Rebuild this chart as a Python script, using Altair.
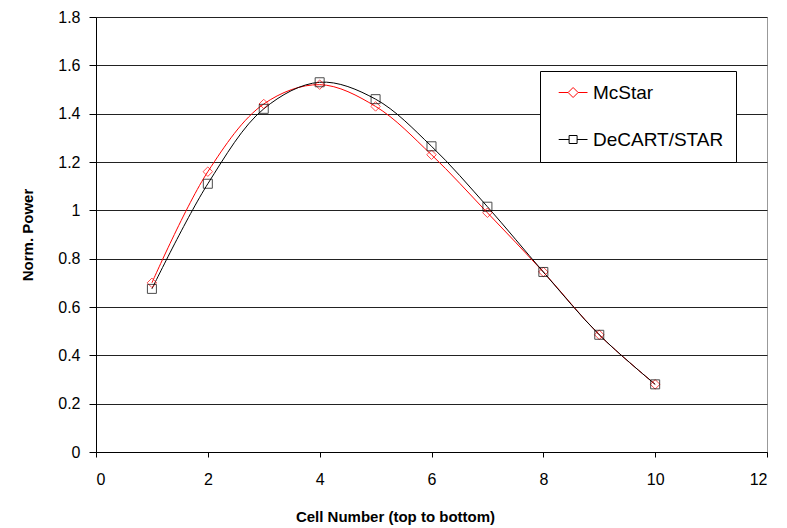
import altair as alt
import pandas as pd

cells = [1, 2, 3, 4, 5, 6, 7, 8, 9, 10]
mcstar = [0.70, 1.16, 1.44, 1.52, 1.43, 1.23, 0.99, 0.745, 0.485, 0.28]
decart = [0.675, 1.11, 1.42, 1.53, 1.46, 1.265, 1.015, 0.745, 0.485, 0.28]
series_names = ["McStar", "DeCART/STAR"]
y_ticks = [0, 0.2, 0.4, 0.6, 0.8, 1.0, 1.2, 1.4, 1.6, 1.8]
x_ticks = [0, 2, 4, 6, 8, 10, 12]

rows = []
for c, v in zip(cells, mcstar):
    rows.append({"cell": c, "power": v, "series": series_names[0]})
for c, v in zip(cells, decart):
    rows.append({"cell": c, "power": v, "series": series_names[1]})
df = pd.DataFrame(rows)

colors = ["#ff0000", "#000000"]
FONT = "Liberation Sans"

# legend glyphs: short line with the marker in its middle
diamond_path = "M-0.7,0L1.65,0M4.15,0L6.5,0M1.65,0L2.9,-1.25L4.15,0L2.9,1.25Z"
square_path = "M-0.7,0L1.9,0M3.9,0L6.5,0M1.9,-1L3.9,-1L3.9,1L1.9,1Z"
sym_expr = "datum.value == 'McStar' ? '" + diamond_path + "' : '" + square_path + "'"
NBSP = "\u00a0"

x_enc = alt.X("cell:Q", scale=alt.Scale(domain=[0, 12], nice=False),
              axis=alt.Axis(values=x_ticks, title="Cell Number (top to bottom)", grid=False,
                            labelPadding=14, titlePadding=22, tickSize=5, titleX=299))
y_enc = alt.Y("power:Q", scale=alt.Scale(domain=[0, 1.8], nice=False),
              axis=alt.Axis(values=y_ticks, format=".1~f", title="Norm. Power", grid=True,
                            labelPadding=9, titlePadding=22, tickSize=7))

color_scale = alt.Scale(domain=series_names, range=colors)

lines = alt.Chart(df).mark_line(interpolate="catmull-rom", strokeWidth=1).encode(
    x=x_enc, y=y_enc,
    color=alt.Color("series:N", scale=color_scale,
                    legend=alt.Legend(
                        title=None, orient="none", legendX=444, legendY=54,
                        strokeColor="#000", fillColor="#fff", padding=12, cornerRadius=0,
                        symbolSize=64, symbolStrokeWidth=1, symbolFillColor="transparent",
                        symbolType=alt.ExprRef(sym_expr),
                        labelExpr="datum.label + '" + NBSP * 3 + "'",
                        labelOffset=22, rowPadding=27, labelFontSize=19, labelFont=FONT,
                        labelColor="#000",
                    ))
)

pts_mc = alt.Chart(df).transform_filter(alt.datum.series == series_names[0]).mark_point(
    shape="diamond", filled=False, strokeWidth=1, size=90, color=colors[0]
).encode(x=x_enc, y=y_enc)

pts_dc = alt.Chart(df).transform_filter(alt.datum.series == series_names[1]).mark_point(
    shape="square", filled=False, strokeWidth=1, size=81, color=colors[1]
).encode(x=x_enc, y=y_enc)

chart = alt.layer(lines, pts_mc, pts_dc).properties(
    width=671, height=435,
    autosize=alt.AutoSizeParams(type="none"),
    padding={"left": 88, "top": 9, "right": 12, "bottom": 76},
).configure_view(stroke="#999", strokeWidth=1).configure_axis(
    labelFont=FONT, titleFont=FONT, labelFontSize=16, titleFontSize=15, titleFontWeight="bold",
    labelColor="#000", titleColor="#000", domainColor="#000", tickColor="#000",
    gridColor="#222", gridWidth=1, gridOpacity=1
)

chart.save("out.html", embed_options={"renderer": "svg", "actions": False})
